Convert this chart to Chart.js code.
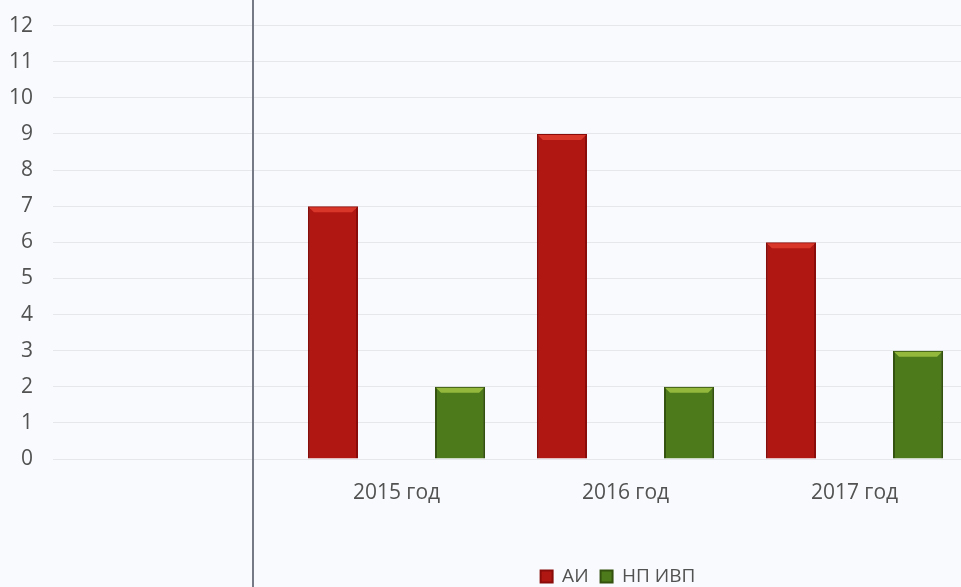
<!DOCTYPE html>
<html>
<head>
<meta charset="utf-8">
<script src="https://cdn.jsdelivr.net/npm/chart.js@4/dist/chart.umd.min.js"></script>
<style>
  html, body { margin: 0; padding: 0; overflow: hidden; background: #f8fafd; width: 961px; height: 587px; }
  #wrap { position: absolute; left: -11px; top: -7px; width: 984px; height: 603px; }
  #vline { position: absolute; left: 252px; top: 0; width: 2px; height: 587px; background: #767a86; }
</style>
</head>
<body>
<div id="wrap"><canvas id="c" width="984" height="603"></canvas></div>
<div id="vline"></div>
<script>
const categories = ['', '2015 год', '2016 год', '2017 год'];
const seriesNames = ['АИ', 'НП ИВП'];
const valuesAI = [null, 7, 9, 6];
const valuesNP = [null, 2, 2, 3];
const yTicks = [0, 1, 2, 3, 4, 5, 6, 7, 8, 9, 10, 11, 12];

const FONT = "'Open Sans', 'Noto Sans', sans-serif";
const TEXT = '#525252';
const bevel = ['#d9362a', '#93b83c'];
const edge = ['#8a0c0a', '#34520f'];

const shiftLegend = {
  id: 'shiftLegend',
  afterLayout(chart) {
    const l = chart.legend;
    if (l) { const d = 139; l.left += d; l.right += d; }
  }
};

const bevelPlugin = {
  id: 'bevel',
  afterDatasetsDraw(chart) {
    const ctx = chart.ctx;
    chart.data.datasets.forEach((ds, i) => {
      const meta = chart.getDatasetMeta(i);
      meta.data.forEach((bar, j) => {
        if (ds.data[j] == null) return;
        const w = bar.width, l = bar.x - w / 2, r = bar.x + w / 2, t = bar.y;
        const b = 5;
        ctx.save();
        ctx.fillStyle = bevel[i];
        ctx.beginPath();
        ctx.moveTo(l + 1, t + 1); ctx.lineTo(r - 1, t + 1); ctx.lineTo(r - 1 - b, t + b + 1); ctx.lineTo(l + 1 + b, t + b + 1);
        ctx.closePath(); ctx.fill();
        ctx.restore();
      });
    });
  }
};

new Chart(document.getElementById('c'), {
  type: 'bar',
  data: {
    labels: categories,
    datasets: [
      { label: seriesNames[0], data: valuesAI, backgroundColor: '#b01712', borderColor: edge[0], borderWidth: 2, borderSkipped: 'bottom' },
      { label: seriesNames[1], data: valuesNP, backgroundColor: '#4d7a1b', borderColor: edge[1], borderWidth: 2, borderSkipped: 'bottom' }
    ]
  },
  options: {
    responsive: false,
    animation: false,
    categoryPercentage: 1.11,
    barPercentage: 0.394,
    layout: { padding: { top: 7, left: 0, right: 4, bottom: 0 } },
    plugins: {
      legend: {
        position: 'bottom',
        labels: { font: { family: FONT, size: 19 }, color: TEXT, boxWidth: 12, boxHeight: 12, padding: 12 }
      },
      tooltip: { enabled: false }
    },
    scales: {
      x: {
        grid: { display: false },
        border: { display: false },
        afterFit(axis) { axis.height = 96; },
        ticks: { font: { family: FONT, size: 21 }, color: TEXT, padding: 13, maxRotation: 0 }
      },
      y: {
        min: 0, max: 12,
        afterBuildTicks(axis) { axis.ticks = yTicks.map(v => ({ value: v })); },
        grid: { color: '#e5e7eb', lineWidth: 1, drawTicks: false },
        border: { display: false },
        ticks: { font: { family: FONT, size: 21 }, color: TEXT, padding: 20 }
      }
    }
  },
  plugins: [shiftLegend, bevelPlugin]
});
</script>
</body>
</html>
